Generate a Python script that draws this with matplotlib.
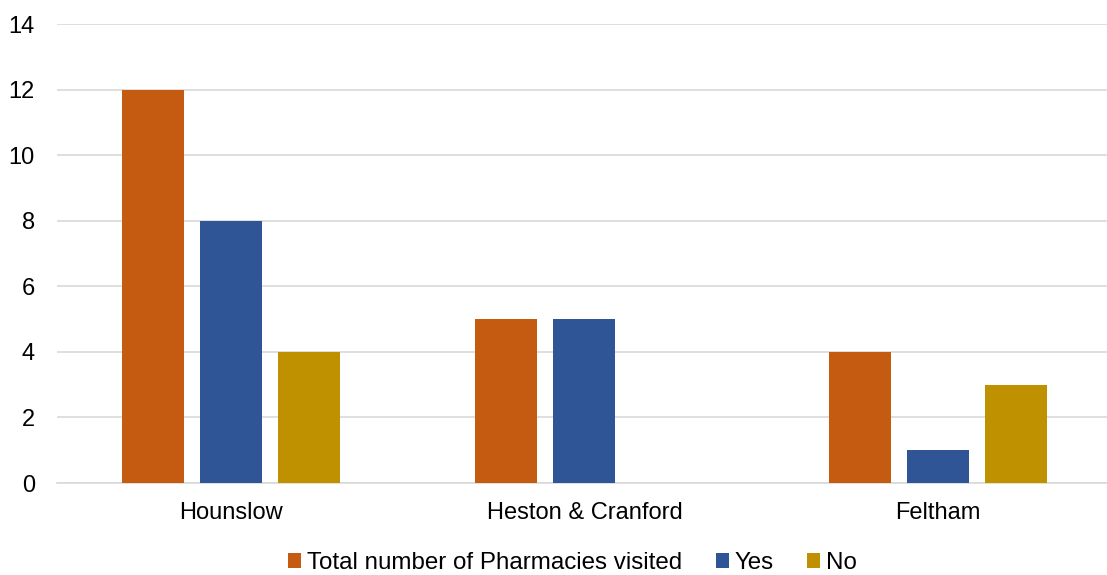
import numpy as np
import matplotlib.pyplot as plt

plt.rcParams['font.family'] = ['Liberation Sans', 'DejaVu Sans']

areas = ['Hounslow', 'Heston & Cranford', 'Feltham']
series = ['Total number of Pharmacies visited', 'Yes', 'No']
total = [12, 5, 4]
yes = [8, 5, 1]
no = [4, 0, 3]
colors = ['#C55A11', '#2F5597', '#BF9000']

fig = plt.figure(figsize=(11.07, 5.75), dpi=100)
ax = fig.add_axes([0.0515, 0.16, 0.9485, 0.798])

x = np.arange(len(areas))
w = 0.1756
step = 0.221
for i, (vals, name) in enumerate(zip([total, yes, no], series)):
    ax.bar(x + (i - 1) * step, vals, w, color=colors[i], label=name, zorder=3)

ax.set_xlim(-0.494, 2.48)
ax.set_ylim(0, 14)
ax.set_yticks(range(0, 15, 2))
ax.set_xticks(x)
ax.set_xticklabels(areas)
ax.grid(axis='y', color='#D9D9D9', linewidth=1.2, zorder=0)
for s in ['top', 'right', 'left']:
    ax.spines[s].set_visible(False)
ax.spines['bottom'].set_color('#D9D9D9')
ax.spines['bottom'].set_linewidth(1.2)
ax.tick_params(axis='both', length=0, labelsize=17, colors='black')
ax.tick_params(axis='x', pad=14)
ax.tick_params(axis='y', pad=16)

fig.legend(loc='center', bbox_to_anchor=(0.517, 0.021), ncol=3, frameon=False,
           fontsize=17.4, handlelength=0.55, handleheight=0.55, handletextpad=0.22,
           columnspacing=1.4)

fig.savefig('out.png', dpi=100)
